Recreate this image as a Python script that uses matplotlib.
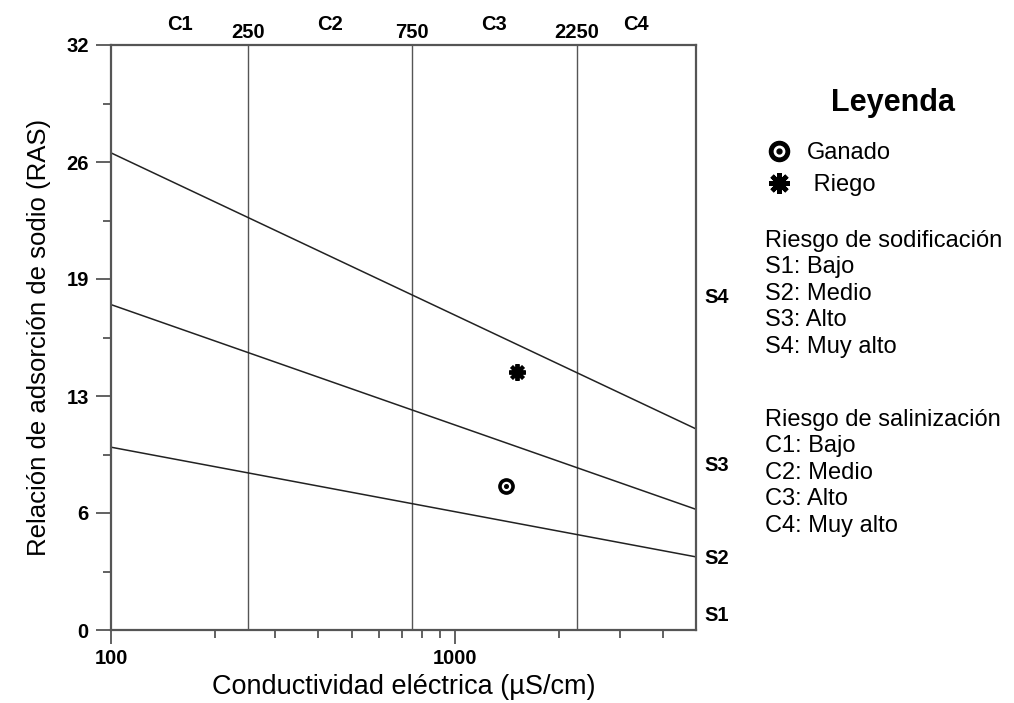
import numpy as np
import matplotlib.pyplot as plt
from matplotlib.lines import Line2D
from matplotlib.ticker import FixedLocator, NullFormatter

plt.rcParams['font.family'] = ['Liberation Sans', 'DejaVu Sans']

# Salinity classes (EC, uS/cm)
ec_limits = [100, 5000]
ec_bounds = [250, 750, 2250]
ec_bound_labels = ['250', '750', '2250']
c_labels = ['C1', 'C2', 'C3', 'C4']

# Sodium hazard boundaries: SAR at EC=100 and EC=5000
sar_at_100 = [10.0, 17.8, 26.1]
sar_at_5000 = [4.0, 6.6, 11.0]
s_labels = ['S1', 'S2', 'S3', 'S4']
s_label_sar = [0.8, 3.9, 9.0, 18.2]

# Samples
sample_names = ['Ganado', 'Riego']
sample_ec = [1400, 1510]
sample_sar = [7.9, 14.1]

# Y ticks
y_ticks = [0, 6.4, 12.8, 19.2, 25.6, 32]
y_tick_labels = ['0', '6', '13', '19', '26', '32']

legend_sod = ['Riesgo de sodificación', 'S1: Bajo', 'S2: Medio', 'S3: Alto', 'S4: Muy alto']
legend_sal = ['Riesgo de salinización', 'C1: Bajo', 'C2: Medio', 'C3: Alto', 'C4: Muy alto']

fig = plt.figure(figsize=(10.14, 7.03), dpi=100)
ax = fig.add_axes([111 / 1014, 73 / 703, 585 / 1014, 585 / 703])

ax.set_xscale('log')
ax.set_xlim(ec_limits)
ax.set_ylim(0, 32)

spine_col = '#555555'
for s in ax.spines.values():
    s.set_color(spine_col)
    s.set_linewidth(1.6)

# class boundary verticals
for ec in ec_bounds:
    ax.axvline(ec, color='#555555', lw=1.0)

# sodium hazard lines
for a, b in zip(sar_at_100, sar_at_5000):
    ax.plot(ec_limits, [a, b], color='#222222', lw=1.1)

# samples
ax.plot(sample_ec[0], sample_sar[0], 'o', ms=11, color='black', ls='none')
ax.plot(sample_ec[0], sample_sar[0], 'o', ms=5.8, color='white', ls='none')
ax.plot(sample_ec[0], sample_sar[0], 'o', ms=2.6, color='black', ls='none')
ax.plot(sample_ec[1], sample_sar[1], marker=(8, 2, 0), ms=12, mew=2.8,
        color='black', ls='none')

# ticks
ax.set_xticks([100, 1000])
ax.set_xticklabels(['100', '1000'])
ax.xaxis.set_minor_locator(FixedLocator([200, 300, 400, 500, 600, 700, 800, 900,
                                         2000, 3000, 4000]))
ax.xaxis.set_minor_formatter(NullFormatter())
ax.set_yticks(y_ticks)
ax.set_yticklabels(y_tick_labels)
ax.yaxis.set_minor_locator(FixedLocator([3.2, 9.6, 16.0, 22.4, 28.8]))
ax.tick_params(axis='both', which='major', colors=spine_col, width=1.3,
               labelcolor='black', labelsize=14.5, direction='out')
ax.tick_params(axis='x', which='major', length=10, pad=4)
ax.tick_params(axis='y', which='major', length=11, pad=5)
ax.tick_params(axis='both', which='minor', colors=spine_col, width=1.3, length=6)
for lbl in ax.get_xticklabels() + ax.get_yticklabels():
    lbl.set_fontweight('bold')

ax.set_xlabel('Conductividad eléctrica (µS/cm)', fontsize=19.5, labelpad=4)
ax.set_ylabel('Relación de adsorción de sodio (RAS)', fontsize=18.5, labelpad=11)

# top labels
edges = [ec_limits[0]] + ec_bounds + [ec_limits[1]]
tr = ax.get_xaxis_transform()
for i, lab in enumerate(c_labels):
    xc = np.sqrt(edges[i] * edges[i + 1])
    ax.text(xc, 1.035, lab, transform=tr, ha='center', va='center',
            fontsize=14.5, fontweight='bold')
for ec, lab in zip(ec_bounds, ec_bound_labels):
    ax.text(ec, 1.022, lab, transform=tr, ha='center', va='center',
            fontsize=14.5, fontweight='bold')

# right labels
tr_y = ax.get_yaxis_transform()
for lab, yv in zip(s_labels, s_label_sar):
    ax.text(1.015, yv, lab, transform=tr_y, ha='left', va='center',
            fontsize=14.5, fontweight='bold')

# legend
fig.text(893 / 1014, 1 - 103 / 703, 'Leyenda', fontsize=22, fontweight='bold',
         ha='center', va='center')
h_ganado = (Line2D([], [], marker='o', ms=14.5, color='black', ls='none'),
            Line2D([], [], marker='o', ms=7.5, color='white', ls='none'),
            Line2D([], [], marker='o', ms=3.5, color='black', ls='none'))
h_riego = Line2D([], [], marker=(8, 2, 0), ms=15, mew=3.4, color='black', ls='none')
leg = fig.legend([h_ganado, h_riego], [sample_names[0], ' ' + sample_names[1]],
                 loc='upper left', bbox_to_anchor=(767 / 1014, 1 - 142 / 703),
                 frameon=False, fontsize=17, handlelength=1.0, handletextpad=0.7,
                 labelspacing=0.42, borderaxespad=0, borderpad=0)

x0 = 765 / 1014
for i, t in enumerate(legend_sod):
    fig.text(x0, 1 - (241 + i * 26.4) / 703, t, fontsize=17, va='center')
for i, t in enumerate(legend_sal):
    fig.text(x0, 1 - (420 + i * 26.4) / 703, t, fontsize=17, va='center')

fig.savefig('out.png', dpi=100)
